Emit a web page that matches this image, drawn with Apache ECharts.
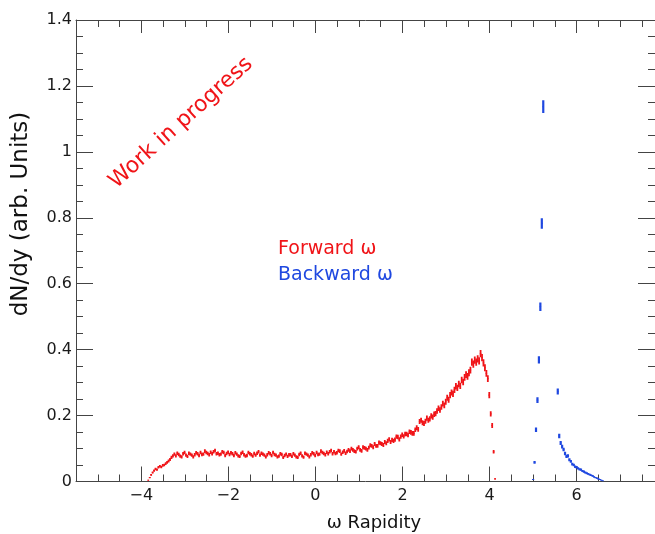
<!DOCTYPE html>
<html><head><meta charset="utf-8">
<script src="https://cdn.jsdelivr.net/npm/echarts@6.0.0/dist/echarts.min.js"></script>
<style>html,body{margin:0;padding:0;background:#fff}#c{width:655px;height:534px}</style>
</head><body><div id="c"></div>
<script>
// ---- data ----
const binWidth = 1 / 30;
const redFirstCenter = -3.84;
const redValues = [
  0.004,0.012,0.020,0.027,0.033,0.038,0.036,0.043,0.046,0.044,
  0.049,0.050,0.054,0.058,0.062,0.067,0.073,0.078,
  0.083,0.078,0.086,0.082,0.077,0.075,0.084,0.088,0.080,0.076,
  0.086,0.083,0.080,0.075,0.081,0.087,0.084,0.079,0.088,0.082,
  0.083,0.092,0.088,0.085,0.081,0.089,0.084,0.090,0.094,0.084,
  0.086,0.081,0.083,0.090,0.088,0.079,0.085,0.089,0.082,0.087,
  0.084,0.079,0.087,0.083,0.078,0.076,0.085,0.089,0.081,0.077,
  0.079,0.088,0.084,0.081,0.077,0.085,0.080,0.086,0.090,0.080,
  0.086,0.083,0.080,0.075,0.081,0.087,0.084,0.079,0.088,0.082,
  0.080,0.075,0.077,0.084,0.082,0.073,0.079,0.083,0.076,0.081,
  0.081,0.076,0.084,0.080,0.075,0.073,0.082,0.086,0.078,0.074,
  0.086,0.083,0.080,0.075,0.081,0.087,0.084,0.079,0.088,0.082,
  0.083,0.092,0.088,0.085,0.081,0.089,0.084,0.090,0.094,0.084,
  0.090,0.085,0.087,0.094,0.092,0.083,0.089,0.093,0.086,0.091,
  0.096,0.092,0.100,0.096,0.092,0.090,0.100,0.104,0.096,0.093,
  0.104,0.102,0.100,0.096,0.103,0.110,0.108,0.104,0.114,0.108,
  0.108,0.118,0.116,0.114,0.111,0.120,0.116,0.123,0.128,0.120,
  0.126,0.123,0.127,0.136,0.135,0.128,0.136,0.142,0.137,0.144,
  0.144,0.141,0.151,0.149,0.146,0.146,0.157,0.163,0.158,0.182,
  0.186,0.178,0.176,0.183,0.192,0.186,0.190,0.199,0.195,0.204,
  0.206,0.214,0.222,0.217,0.226,0.236,0.231,0.242,0.254,0.248,
  0.262,0.270,0.266,0.278,0.289,0.284,0.296,0.290,0.308,0.302,
  0.316,0.324,0.319,0.330,0.338,0.362,0.356,0.368,0.362,0.372,
  0.366,0.388,0.376,0.360,0.345,0.328,0.312,0.262,0.205,0.170,0.090,0.008
];
const blueFirstCenter = 5.0;
const blueValues = [
  0.006,0.058,0.157,0.247,0.369,0.530,0.783,1.137,
  null,null,null,null,null,null,null,null,null,
  0.273,0.138,0.117,0.106,0.097,0.085,0.076,0.078,0.066,0.061,
  0.053,0.050,0.045,0.043,0.040,0.037,0.036,0.032,0.030,0.027,
  0.025,0.023,0.021,0.019,0.017,0.014,0.012,0.010,0.008,0.006,
  0.004,0.002
];
const xMajorTicks = [-4, -2, 0, 2, 4, 6];
const xMinorTicks = [-5, -4.5, -3.5, -3, -2.5, -1.5, -1, -0.5, 0.5, 1, 1.5, 2.5, 3, 3.5, 4.5, 5, 5.5, 6.5, 7, 7.5];
const xMin = -5.5, xMax = 7.8;
const yMin = 0, yMax = 1.4, yStep = 0.2;
const xTitle = 'ω Rapidity';
const yTitle = 'dN/dy (arb. Units)';
const labelForward = 'Forward ω';
const labelBackward = 'Backward ω';
const stampText = 'Work in progress';

// ---- styling ----
const FONT = '"DejaVu Sans", sans-serif';
const RED = '#f01418';
const BLUE = '#1f48e0';
const AX = '#444';
const errScale = 0.018;

function histData(first, vals) {
  const out = [];
  vals.forEach((v, i) => { if (v !== null) out.push([first + i * binWidth, v]); });
  return out;
}
function errRender(color, w) {
  return function (params, api) {
    const x = api.value(0), y = api.value(1);
    const e = errScale * Math.sqrt(y);
    const a = api.coord([x, Math.max(0, y - e)]);
    const b = api.coord([x, y + e]);
    const l = api.coord([x - binWidth / 2, y]);
    const r = api.coord([x + binWidth / 2, y]);
    return { type: 'group', children: [
      { type: 'line', shape: { x1: a[0], y1: a[1], x2: b[0], y2: b[1] }, style: { stroke: color, lineWidth: w } },
      { type: 'line', shape: { x1: l[0], y1: l[1], x2: r[0], y2: r[1] }, style: { stroke: color, lineWidth: 1.1 } }
    ]};
  };
}
const fmtX = v => (v < 0 ? '\u2212' + Math.abs(v) : String(v));
const lineStyle = { color: AX, width: 1 };
function xAxisDef(pos, ticks, len, showLine, showLabel) {
  return {
    type: 'value', position: pos, min: xMin, max: xMax,
    axisLine: { show: showLine, onZero: false, lineStyle },
    axisTick: { show: true, inside: true, length: len, customValues: ticks, lineStyle },
    axisLabel: { show: showLabel, customValues: ticks, formatter: fmtX, margin: 6,
      fontFamily: FONT, fontSize: 16, color: '#1a1a1a' },
    splitLine: { show: false }
  };
}
function yAxisDef(pos, showLabel) {
  return {
    type: 'value', position: pos, min: yMin, max: yMax, interval: yStep,
    axisLine: { show: true, onZero: false, lineStyle },
    axisTick: { show: true, inside: true, length: 17, lineStyle },
    minorTick: { show: true, splitNumber: 4, length: 7, lineStyle },
    axisLabel: { show: showLabel, margin: 4, fontFamily: FONT, fontSize: 16, color: '#1a1a1a' },
    splitLine: { show: false }, minorSplitLine: { show: false }
  };
}

const chart = echarts.init(document.getElementById('c'), null, { renderer: 'canvas' });
chart.setOption({
  animation: false,
  backgroundColor: '#fff',
  grid: { left: 76, right: -1, top: 20, bottom: 52.5, containLabel: false },
  xAxis: [
    xAxisDef('bottom', xMajorTicks, 15, true, true),
    xAxisDef('bottom', xMinorTicks, 7, false, false),
    xAxisDef('top', xMajorTicks, 13, true, false),
    xAxisDef('top', xMinorTicks, 7, false, false)
  ],
  yAxis: [ yAxisDef('left', true), yAxisDef('right', false) ],
  series: [
    { type: 'custom', name: labelForward, xAxisIndex: 0, yAxisIndex: 0, clip: true, silent: true,
      renderItem: errRender(RED, 1.8), data: histData(redFirstCenter, redValues) },
    { type: 'custom', name: labelBackward, xAxisIndex: 0, yAxisIndex: 0, clip: true, silent: true,
      renderItem: errRender(BLUE, 2.2), data: histData(blueFirstCenter, blueValues) }
  ],
  graphic: [
    { type: 'text', x: 374, y: 523, style: { text: xTitle, font: '18px ' + FONT, fill: '#111',
      textAlign: 'center', align: 'center', textVerticalAlign: 'middle', verticalAlign: 'middle' } },
    { type: 'text', x: 21, y: 214, rotation: Math.PI / 2, style: { text: yTitle, font: '23px ' + FONT, fill: '#111',
      textAlign: 'center', align: 'center', textVerticalAlign: 'middle', verticalAlign: 'middle' } },
    { type: 'text', x: 181, y: 123, rotation: 42 * Math.PI / 180, style: { text: stampText, font: '22px ' + FONT, fill: RED,
      textAlign: 'center', align: 'center', textVerticalAlign: 'middle', verticalAlign: 'middle' } },
    { type: 'text', x: 278, y: 249, style: { text: labelForward, font: '19px ' + FONT, fill: RED,
      textAlign: 'left', align: 'left', textVerticalAlign: 'middle', verticalAlign: 'middle' } },
    { type: 'text', x: 278, y: 275, style: { text: labelBackward, font: '19px ' + FONT, fill: BLUE,
      textAlign: 'left', align: 'left', textVerticalAlign: 'middle', verticalAlign: 'middle' } }
  ]
});
</script></body></html>
